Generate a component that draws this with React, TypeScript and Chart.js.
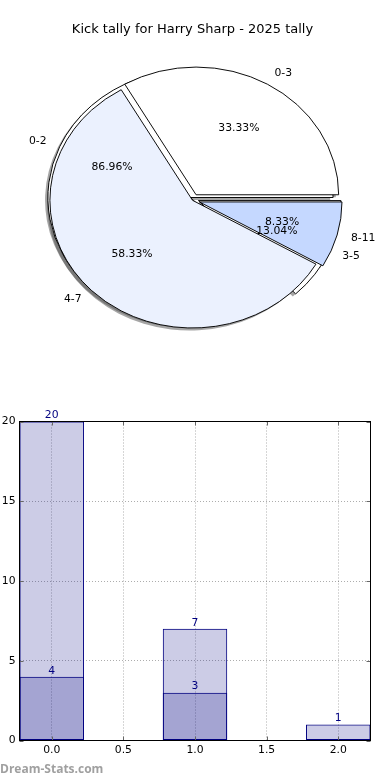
import React, { useEffect, useRef } from "react";
import { Chart, registerables } from "chart.js";

Chart.register(...registerables);

// ---------- data ----------
const TITLE = "Kick tally for Harry Sharp - 2025 tally";

const outerPieLabels = ["0-3", "4-7", "8-11"];
const outerPieValues = [4, 7, 1];
const outerPieExplode = [0.05, 0, 0.05];
const outerPieColors = ["#ffffff", "#ebf1fe", "#c5d8ff"];

const innerPieLabels = ["0-2", "3-5"];
const innerPieValues = [20, 3];
const innerPieExplode = [0, 0.06];
const innerPieColors = ["#ffffff", "#ffffff"];

const barPositionsA = [0, 1, 2];
const barSeriesA = [20, 7, 1];
const barPositionsB = [0, 1];
const barSeriesB = [4, 3];
const barWidthUnits = 0.45;
const xTickStep = 0.5;
const yTickStep = 5;
const xMin = -0.225;
const xMax = 2.225;
const yMin = 0;
const yMax = 20;

const WATERMARK = "Dream-Stats.com";

// ---------- style / layout ----------
const FONT = "'DejaVu Sans', sans-serif";
const PIE_R = 142.6;
const PIE_SY = 127.7 / 142.6;
const LABEL_SIZE = 10.8;

// matplotlib draws counter-clockwise from 3 o'clock; Chart.js clockwise -> reverse order
const rev = <T,>(a: T[]): T[] => a.slice().reverse();

function arcProps(arc: any) {
  return arc.getProps(["x", "y", "startAngle", "endAngle", "outerRadius"], true);
}

function withEllipse(ctx: CanvasRenderingContext2D, cy: number, fn: () => void) {
  ctx.save();
  ctx.translate(0, cy);
  ctx.scale(1, PIE_SY);
  ctx.translate(0, -cy);
  fn();
  ctx.restore();
}

function drawShadows(ctx: CanvasRenderingContext2D, chart: Chart, explode: number[]) {
  const meta = chart.getDatasetMeta(0);
  meta.data.forEach((arc: any, i: number) => {
    const p = arcProps(arc);
    const mid = (p.startAngle + p.endAngle) / 2;
    const off = explode[i] * p.outerRadius;
    withEllipse(ctx, p.y, () => {
      ctx.translate(Math.cos(mid) * off - 0.02 * p.outerRadius, Math.sin(mid) * off + 0.02 * p.outerRadius);
      ctx.beginPath();
      ctx.moveTo(p.x, p.y);
      ctx.arc(p.x, p.y, p.outerRadius, p.startAngle, p.endAngle);
      ctx.closePath();
      ctx.fillStyle = "rgba(77,77,77,0.5)";
      ctx.fill();
    });
  });
}

function drawWedges(chart: Chart, explode: number[]) {
  const ctx = chart.ctx;
  const meta = chart.getDatasetMeta(0);
  meta.data.forEach((arc: any, i: number) => {
    const p = arcProps(arc);
    const mid = (p.startAngle + p.endAngle) / 2;
    const off = explode[i] * p.outerRadius;
    withEllipse(ctx, p.y, () => {
      ctx.translate(Math.cos(mid) * off, Math.sin(mid) * off);
      arc.draw(ctx);
    });
  });
}

function drawPieTexts(ctx: CanvasRenderingContext2D, chart: Chart, explode: number[]) {
  const meta = chart.getDatasetMeta(0);
  const values = chart.data.datasets[0].data as number[];
  const labels = chart.data.labels as string[];
  const total = values.reduce((a, b) => a + b, 0);
  ctx.save();
  ctx.font = `${LABEL_SIZE}px ${FONT}`;
  ctx.fillStyle = "#000";
  ctx.textBaseline = "middle";
  meta.data.forEach((arc: any, i: number) => {
    const p = arcProps(arc);
    const mid = (p.startAngle + p.endAngle) / 2;
    const c = Math.cos(mid);
    const s = Math.sin(mid);
    const R = p.outerRadius;
    const e = explode[i];
    ctx.textAlign = c > 0 ? "left" : "right";
    ctx.fillText(labels[i], p.x + c * (1.1 + e) * R, p.y + s * (1.1 + e) * R * PIE_SY);
    ctx.textAlign = "center";
    const pct = ((values[i] / total) * 100).toFixed(2) + "%";
    ctx.fillText(pct, p.x + c * (0.6 + e) * R, p.y + s * (0.6 + e) * R * PIE_SY);
  });
  ctx.restore();
}

export default function App() {
  const backRef = useRef<HTMLCanvasElement>(null);
  const frontRef = useRef<HTMLCanvasElement>(null);
  const barRef = useRef<HTMLCanvasElement>(null);

  useEffect(() => {
    Chart.defaults.font.family = FONT;
    const refs: { front: Chart | null; back: Chart | null } = { front: null, back: null };
    const outerExp = rev(outerPieExplode);
    const innerExp = rev(innerPieExplode);

    const frontPlugin = {
      id: "frontPie",
      beforeDatasetsDraw(chart: Chart) {
        drawWedges(chart, outerExp);
        return false;
      },
      afterDraw(chart: Chart) {
        if (refs.back) drawPieTexts(chart.ctx, refs.back, innerExp);
        drawPieTexts(chart.ctx, chart, outerExp);
      },
    };

    const backPlugin = {
      id: "backPie",
      beforeDatasetsDraw(chart: Chart) {
        drawShadows(chart.ctx, chart, innerExp);
        if (refs.front) drawShadows(chart.ctx, refs.front, outerExp);
        drawWedges(chart, innerExp);
        return false;
      },
    };

    const pieCommon = (colors: string[], values: number[], labels: string[]) => ({
      labels: rev(labels),
      datasets: [
        {
          data: rev(values),
          backgroundColor: rev(colors),
          borderColor: "#000",
          borderWidth: 1,
          borderJoinStyle: "miter" as const,
        },
      ],
    });

    const front = new Chart(frontRef.current!, {
      type: "pie",
      data: pieCommon(outerPieColors, outerPieValues, outerPieLabels),
      options: {
        responsive: false,
        animation: false,
        events: [],
        radius: PIE_R,
        rotation: 90,
        layout: { padding: 0 },
        plugins: {
          legend: { display: false },
          tooltip: { enabled: false },
          title: {
            display: true,
            text: TITLE,
            color: "#000",
            font: { family: FONT, size: 13, weight: "normal", lineHeight: 1.2 },
            padding: { top: 22, bottom: 0 },
          },
        },
      } as any,
      plugins: [frontPlugin as any],
    });
    refs.front = front;

    const back = new Chart(backRef.current!, {
      type: "pie",
      data: pieCommon(innerPieColors, innerPieValues, innerPieLabels),
      options: {
        responsive: false,
        animation: false,
        events: [],
        radius: PIE_R,
        rotation: 90,
        layout: { padding: 0 },
        plugins: {
          legend: { display: false },
          tooltip: { enabled: false },
          title: { display: false },
        },
      } as any,
      plugins: [backPlugin as any],
    });
    refs.back = back;
    front.draw();

    // Chart.js sizes bars from the smallest spacing among values and ticks (the tick step here)
    const barStyle = {
      backgroundColor: "rgba(0,0,128,0.2)",
      borderColor: "#000080",
      borderWidth: 1,
      borderSkipped: false,
      barPercentage: barWidthUnits / xTickStep,
      categoryPercentage: 1,
      grouped: false,
    };

    const barPlugin = {
      id: "barExtras",
      afterDraw(chart: Chart) {
        const { ctx, chartArea: a } = chart;
        const xs: any = chart.scales.x;
        const ys: any = chart.scales.y;
        ctx.save();
        // inward tick marks on all four sides
        ctx.strokeStyle = "#666";
        ctx.lineWidth = 1;
        ctx.beginPath();
        xs.ticks.forEach((t: any) => {
          const px = Math.round(xs.getPixelForValue(t.value)) + 0.5;
          ctx.moveTo(px, a.bottom);
          ctx.lineTo(px, a.bottom - 4);
          ctx.moveTo(px, a.top);
          ctx.lineTo(px, a.top + 4);
        });
        ys.ticks.forEach((t: any) => {
          const py = Math.round(ys.getPixelForValue(t.value)) + 0.5;
          ctx.moveTo(a.left, py);
          ctx.lineTo(a.left + 4, py);
          ctx.moveTo(a.right, py);
          ctx.lineTo(a.right - 4, py);
        });
        ctx.stroke();
        // frame
        ctx.strokeStyle = "#000";
        ctx.strokeRect(a.left, a.top, a.right - a.left, a.bottom - a.top);
        // value labels
        ctx.font = `${LABEL_SIZE}px ${FONT}`;
        ctx.fillStyle = "#000080";
        ctx.textAlign = "center";
        ctx.textBaseline = "middle";
        chart.data.datasets.forEach((ds: any, di: number) => {
          chart.getDatasetMeta(di).data.forEach((bar: any, i: number) => {
            ctx.fillText(String(ds.data[i].y), bar.x, bar.y - 6);
          });
        });
        // watermark
        ctx.font = `bold 12px 'Open Sans', sans-serif`;
        ctx.fillStyle = "#a0a0a0";
        ctx.textAlign = "left";
        ctx.fillText(WATERMARK, 0, 370);
        ctx.restore();
      },
    };

    const gridOpts = { color: "rgba(0,0,0,0.32)", lineWidth: 1, drawTicks: false, offset: false };
    const borderOpts = { display: false, dash: [1, 2] };

    const bar = new Chart(barRef.current!, {
      type: "bar",
      data: {
        datasets: [
          { data: barPositionsA.map((x, i) => ({ x, y: barSeriesA[i] })), ...barStyle },
          { data: barPositionsB.map((x, i) => ({ x, y: barSeriesB[i] })), ...barStyle },
        ],
      } as any,
      options: {
        responsive: false,
        animation: false,
        events: [],
        layout: { padding: { left: 0, right: 19.5, top: 21.5, bottom: 0 } },
        plugins: { legend: { display: false }, tooltip: { enabled: false }, title: { display: false } },
        scales: {
          x: {
            type: "linear",
            min: xMin,
            max: xMax,
            offset: false,
            z: 1,
            grid: gridOpts,
            border: borderOpts,
            ticks: {
              stepSize: xTickStep,
              includeBounds: false,
              padding: 3,
              color: "#000",
              font: { size: LABEL_SIZE, family: FONT },
              maxRotation: 0,
              autoSkip: false,
              callback: (v: any) => Number(v).toFixed(1),
            },
            afterFit: (s: any) => {
              s.height = 39.5;
            },
          },
          y: {
            type: "linear",
            min: yMin,
            max: yMax,
            z: 1,
            grid: gridOpts,
            border: borderOpts,
            ticks: {
              stepSize: yTickStep,
              padding: 4,
              color: "#000",
              font: { size: LABEL_SIZE, family: FONT },
              callback: (v: any) => String(v),
            },
            afterFit: (s: any) => {
              s.width = 19.5;
            },
          },
        },
      } as any,
      plugins: [barPlugin as any],
    });

    return () => {
      front.destroy();
      back.destroy();
      bar.destroy();
    };
  }, []);

  return (
    <div style={{ position: "absolute", left: 0, top: 0, width: 390, height: 780, background: "#fff", overflow: "hidden" }}>
      <canvas ref={backRef} width={381} height={395} style={{ position: "absolute", left: 0, top: 0 }} />
      <canvas ref={frontRef} width={385} height={363} style={{ position: "absolute", left: 0, top: 0 }} />
      <canvas ref={barRef} width={390} height={380} style={{ position: "absolute", left: 0, top: 400 }} />
    </div>
  );
}
